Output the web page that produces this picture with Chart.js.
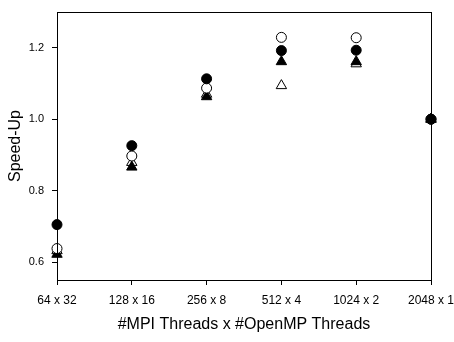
<!DOCTYPE html>
<html>
<head>
<meta charset="utf-8">
<script src="https://cdn.jsdelivr.net/npm/chart.js@4/dist/chart.umd.min.js"></script>
<style>
  html, body { margin: 0; padding: 0; background: #fff; }
  #wrap { width: 454px; height: 342px; }
</style>
</head>
<body>
<div id="wrap"><canvas id="myChart"></canvas></div>
<script>
const categorias = ['64 x 32', '128 x 16', '256 x 8', '512 x 4', '1024 x 2', '2048 x 1'];
const circuloLleno = [0.705, 0.926, 1.113, 1.192, 1.193, 1.0];
const circuloVacio = [0.638, 0.897, 1.087, 1.229, 1.228, 1.0];
const trianguloLleno = [0.622, 0.866, 1.063, 1.161, 1.161, 1.0];
const trianguloVacio = [0.632, 0.879, 1.070, 1.094, 1.155, 1.0];
const ticksY = [0.6, 0.8, 1.0, 1.2];

// marco completo alrededor del area del grafico
const marco = {
    id: 'marco',
    afterDraw(chart) {
        const { ctx, chartArea: a } = chart;
        ctx.save();
        ctx.strokeStyle = '#000';
        ctx.lineWidth = 1;
        ctx.strokeRect(a.left + 0.5, a.top + 0.5, a.right - a.left, a.bottom - a.top);
        ctx.restore();
    }
};

function serie(datos, estilo, relleno, radio) {
    return {
        data: datos,
        showLine: false,
        pointStyle: estilo,
        pointRadius: radio,
        pointHoverRadius: radio,
        pointBackgroundColor: relleno,
        pointBorderColor: '#000',
        pointBorderWidth: 1
    };
}

new Chart(document.getElementById('myChart'), {
    type: 'line',
    data: {
        labels: categorias,
        datasets: [
            serie(circuloLleno, 'circle', '#000', 5),
            serie(circuloVacio, 'circle', '#fff', 5),
            serie(trianguloLleno, 'triangle', '#000', 6),
            serie(trianguloVacio, 'triangle', '#fff', 6)
        ]
    },
    options: {
        responsive: true,
        maintainAspectRatio: false,
        animation: false,
        layout: { padding: { left: 0, right: 23, top: 12, bottom: 0 } },
        plugins: {
            legend: { display: false },
            tooltip: { enabled: false }
        },
        scales: {
            x: {
                offset: false,
                grid: { display: true, drawOnChartArea: false, tickLength: 5, color: '#000' },
                border: { color: '#000' },
                ticks: {
                    color: '#000',
                    padding: 8,
                    maxRotation: 0,
                    autoSkip: false,
                    font: { family: 'Liberation Sans', size: 12 }
                },
                title: {
                    display: true,
                    text: '#MPI Threads x #OpenMP Threads',
                    color: '#000',
                    padding: { top: 4, bottom: 8 },
                    font: { family: 'Liberation Sans', size: 16 }
                },
                afterFit(scale) {
                    scale.height = 62;
                    scale.paddingLeft = 0;
                    scale.paddingRight = 0;
                }
            },
            y: {
                min: 0.55,
                max: 1.3,
                grid: { display: true, drawOnChartArea: false, tickLength: 5, color: '#000' },
                border: { color: '#000' },
                ticks: {
                    color: '#000',
                    padding: 8,
                    font: { family: 'Liberation Sans', size: 11 },
                    callback: v => Number(v).toFixed(1)
                },
                afterBuildTicks(scale) { scale.ticks = ticksY.map(v => ({ value: v })); },
                title: {
                    display: true,
                    text: 'Speed-Up',
                    color: '#000',
                    padding: { top: 6, bottom: 0 },
                    font: { family: 'Liberation Sans', size: 16 }
                },
                afterFit(scale) {
                    scale.width = 57;
                    scale.paddingTop = 0;
                    scale.paddingBottom = 0;
                }
            }
        }
    },
    plugins: [marco]
});
</script>
</body>
</html>
